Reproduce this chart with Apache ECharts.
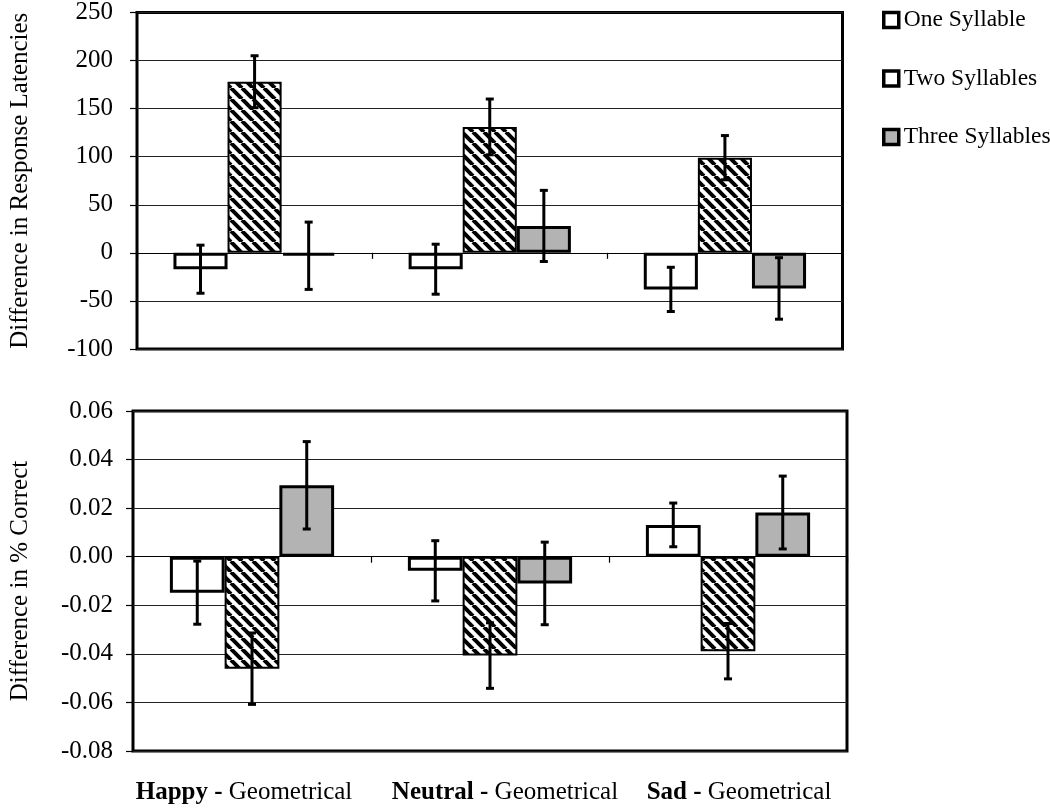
<!DOCTYPE html>
<html>
<head>
<meta charset="utf-8">
<script src="https://cdn.jsdelivr.net/npm/echarts@6/dist/echarts.min.js"></script>
<style>
html,body{margin:0;padding:0;background:#fff;}
#chart{width:1050px;height:808px;}
</style>
</head>
<body>
<div id="chart"></div>
<script>
// ---- data ----
const categories = ['Happy', 'Neutral', 'Sad'];
const seriesNames = ['One Syllable', 'Two Syllables', 'Three Syllables'];

// Top: Difference in Response Latencies
const latOne = [-17, -17, -38];
const latOneErr = [25, 26, 23];
const latTwo = [178, 131, 99];
const latTwoErr = [27, 29, 23];
const latThree = [-3, 28, -37];
const latThreeErr = [35, 37, 32];

// Bottom: Difference in % Correct
const corOne = [-0.0148, -0.0058, 0.0131];
const corOneErr = [0.013, 0.0124, 0.009];
const corTwo = [-0.0461, -0.0407, -0.0389];
const corTwoErr = [0.0147, 0.0135, 0.0114];
const corThree = [0.0294, -0.011, 0.0182];
const corThreeErr = [0.018, 0.017, 0.015];

// ---- hatch pattern ----
function makeHatch() {
  const s = 11;
  const c = document.createElement('canvas');
  c.width = s; c.height = s;
  const g = c.getContext('2d');
  g.fillStyle = '#fff';
  g.fillRect(0, 0, s, s);
  g.strokeStyle = '#000';
  g.lineWidth = 4;
  for (const off of [-s, 0, s]) {
    g.beginPath();
    g.moveTo(off, 0);
    g.lineTo(off + s, s);
    g.stroke();
  }
  return c;
}
const hatch = { image: makeHatch(), repeat: 'repeat' };

const FONT = 'Liberation Serif';
const GROUP = 0.69;

const styles = [
  { color: '#ffffff', borderColor: '#000', borderWidth: 3 },
  { color: hatch, borderColor: '#000', borderWidth: 2 },
  { color: '#b3b3b3', borderColor: '#000', borderWidth: 3 }
];

function barSeries(name, data, xi, yi, k) {
  return {
    name: name, type: 'bar', xAxisIndex: xi, yAxisIndex: yi,
    data: data, barGap: '0%', barCategoryGap: '31%',
    itemStyle: styles[k], emphasis: { disabled: true }, z: 2
  };
}

function errSeries(vals, errs, xi, yi, k) {
  return {
    type: 'custom', xAxisIndex: xi, yAxisIndex: yi, z: 5, silent: true,
    data: vals.map((v, i) => [i, v, errs[i]]),
    renderItem: function (params, api) {
      const x = api.value(0), v = api.value(1), e = api.value(2);
      const band = api.size([1, 0])[0];
      const bw = band * GROUP / 3;
      const c = api.coord([x, v]);
      const cx = c[0] + (k - 1) * bw;
      const hi = api.coord([x, v + e])[1];
      const lo = api.coord([x, v - e])[1];
      const cap = 4;
      const st = { stroke: '#000', lineWidth: 3 };
      return {
        type: 'group',
        children: [
          { type: 'line', shape: { x1: cx, y1: hi, x2: cx, y2: lo }, style: st },
          { type: 'line', shape: { x1: cx - cap, y1: hi, x2: cx + cap, y2: hi }, style: st },
          { type: 'line', shape: { x1: cx - cap, y1: lo, x2: cx + cap, y2: lo }, style: st }
        ]
      };
    }
  };
}

const chart = echarts.init(document.getElementById('chart'), null, { renderer: 'canvas' });

const yLabel = { color: '#000', fontFamily: FONT, fontSize: 25 };

const catPad = { Happy: ['', '{pr1|}'], Neutral: ['{pl1|}', ''], Sad: ['{pl2|}', ''] };

const option = {
  animation: false,
  backgroundColor: '#fff',
  textStyle: { fontFamily: FONT },
  grid: [
    { left: 134.5, top: 6, width: 708, height: 343, show: true, borderColor: '#000', borderWidth: 3, backgroundColor: 'transparent' },
    { left: 130, top: 411, width: 717, height: 340, show: true, borderColor: '#000', borderWidth: 3, backgroundColor: 'transparent' }
  ],
  legend: {
    orient: 'vertical', left: 882, top: 8, itemGap: 34.5, padding: 0,
    itemWidth: 15, itemHeight: 15, icon: 'rect',
    textStyle: { color: '#000', fontFamily: FONT, fontSize: 23.5, lineHeight: 24 },
    selectedMode: false,
    data: [
      { name: seriesNames[0], itemStyle: { color: '#fff', borderColor: '#000', borderWidth: 3.5 } },
      { name: seriesNames[1], itemStyle: { color: '#fff', borderColor: '#000', borderWidth: 3.5 } },
      { name: seriesNames[2], itemStyle: { color: '#b3b3b3', borderColor: '#000', borderWidth: 3.5 } }
    ]
  },
  xAxis: [
    {
      type: 'category', gridIndex: 0, data: categories, position: 'bottom',
      axisLine: { onZero: true, lineStyle: { color: '#000', width: 1 } },
      axisTick: { show: true, length: 6, lineStyle: { color: '#000', width: 1.2 } },
      axisLabel: { show: false }, splitLine: { show: false }
    },
    {
      type: 'category', gridIndex: 1, data: categories, position: 'bottom',
      axisLine: { onZero: true, lineStyle: { color: '#000', width: 1 } },
      axisTick: { show: true, length: 6, lineStyle: { color: '#000', width: 1.2 } },
      axisLabel: { show: false }, splitLine: { show: false }
    },
    {
      type: 'category', gridIndex: 1, data: categories, position: 'bottom',
      axisLine: { show: false, onZero: false }, axisTick: { show: false },
      splitLine: { show: false },
      axisLabel: {
        show: true, interval: 0, hideOverlap: false, margin: 29, color: '#000', fontFamily: FONT, fontSize: 25,
        formatter: v => catPad[v][0] + '{b|' + v + ' -} {r|Geometrical}' + catPad[v][1],
        rich: {
          b: { fontWeight: 'bold', fontFamily: FONT, fontSize: 25, color: '#000' },
          r: { fontFamily: FONT, fontSize: 25, color: '#000' },
          pl1: { width: 30 },
          pl2: { width: 22 },
          pr1: { width: 16 }
        }
      }
    }
  ],
  yAxis: [
    {
      type: 'value', gridIndex: 0, min: -100, max: 250, interval: 50,
      name: 'Difference in Response Latencies', nameLocation: 'middle', nameGap: 104,
      nameTextStyle: { color: '#000', fontFamily: FONT, fontSize: 25 },
      axisLine: { show: false },
      axisTick: { show: true, length: 7, lineStyle: { color: '#000', width: 1.2 } },
      axisLabel: Object.assign({ margin: 24 }, yLabel),
      splitLine: { show: true, lineStyle: { color: '#222', width: 1.2 } }
    },
    {
      type: 'value', gridIndex: 1, min: -0.08, max: 0.06, interval: 0.02,
      name: 'Difference in % Correct', nameLocation: 'middle', nameGap: 100,
      nameTextStyle: { color: '#000', fontFamily: FONT, fontSize: 25 },
      axisLine: { show: false },
      axisTick: { show: true, length: 7, lineStyle: { color: '#000', width: 1.2 } },
      axisLabel: Object.assign({ margin: 20, formatter: v => Math.abs(v) < 1e-9 ? '0.00' : v.toFixed(2) }, yLabel),
      splitLine: { show: true, lineStyle: { color: '#222', width: 1.2 } }
    }
  ],
  series: [
    barSeries(seriesNames[0], latOne, 0, 0, 0),
    barSeries(seriesNames[1], latTwo, 0, 0, 1),
    barSeries(seriesNames[2], latThree, 0, 0, 2),
    barSeries(seriesNames[0], corOne, 1, 1, 0),
    barSeries(seriesNames[1], corTwo, 1, 1, 1),
    barSeries(seriesNames[2], corThree, 1, 1, 2),
    errSeries(latOne, latOneErr, 0, 0, 0),
    errSeries(latTwo, latTwoErr, 0, 0, 1),
    errSeries(latThree, latThreeErr, 0, 0, 2),
    errSeries(corOne, corOneErr, 1, 1, 0),
    errSeries(corTwo, corTwoErr, 1, 1, 1),
    errSeries(corThree, corThreeErr, 1, 1, 2)
  ]
};
chart.setOption(option);
</script>
</body>
</html>
